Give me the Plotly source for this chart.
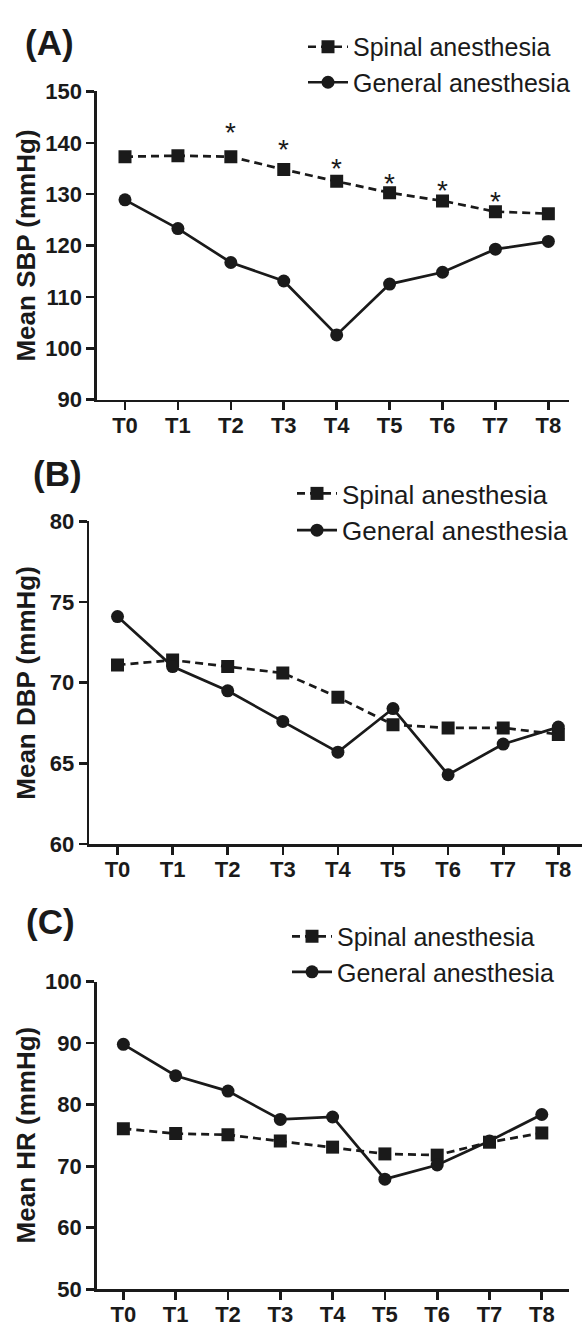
import plotly.graph_objects as go

# ---------------- data ----------------
time_points = ["T0", "T1", "T2", "T3", "T4", "T5", "T6", "T7", "T8"]

sbp_spinal = [137.3, 137.5, 137.3, 134.8, 132.5, 130.3, 128.7, 126.6, 126.2]
sbp_general = [128.9, 123.3, 116.7, 113.1, 102.6, 112.5, 114.8, 119.3, 120.8]
sbp_sig_points = ["T2", "T3", "T4", "T5", "T6", "T7"]
sbp_sig_y = [143.1, 139.8, 136.1, 133.3, 131.9, 129.8]

dbp_spinal = [71.1, 71.4, 71.0, 70.6, 69.1, 67.4, 67.2, 67.2, 66.8]
dbp_general = [74.1, 71.0, 69.5, 67.6, 65.7, 68.4, 64.3, 66.2, 67.25]

hr_spinal = [76.1, 75.3, 75.1, 74.1, 73.1, 72.0, 71.8, 73.9, 75.4]
hr_general = [89.8, 84.7, 82.2, 77.6, 78.0, 67.9, 70.2, 74.1, 78.4]

series_names = ["Spinal anesthesia", "General anesthesia"]
panel_labels = ["(A)", "(B)", "(C)"]
y_titles = ["Mean SBP (mmHg)", "Mean DBP (mmHg)", "Mean HR (mmHg)"]

# ---------------- layout helpers ----------------
W, H = 582, 1337
FONT = "Liberation Sans, Arial, Helvetica, sans-serif"
INK = "#1a1a1a"


def fx(p):
    return p / W


def fy(p):
    return 1 - p / H


panels = [
    dict(xl=97, xr=569, yt=81, yb=395, yr=[90, 150], dt=10, xrng=[-0.529, 8.39],
         leg=(303, 53.5), lfs=25, lab=(49, 31.5)),
    dict(xl=89.3, xr=582, yt=519, yb=848, yr=[60, 80], dt=5, xrng=[-0.512, 8.43],
         leg=(292, 509.5), lfs=26, lab=(57, 470)),
    dict(xl=96.7, xr=569, yt=988, yb=1301.7, yr=[50, 100], dt=10, xrng=[-0.51, 8.52],
         leg=(287, 960), lfs=25, lab=(50, 926.5)),
]

data_sets = [
    (sbp_spinal, sbp_general),
    (dbp_spinal, dbp_general),
    (hr_spinal, hr_general),
]

fig = go.Figure()
annotations = []
layout_axes = {}

for i, (p, (sp, ge)) in enumerate(zip(panels, data_sets)):
    n = "" if i == 0 else str(i + 1)
    xa, ya = "x" + n, "y" + n
    leg = "legend" + n
    fig.add_trace(go.Scatter(
        x=time_points, y=sp, name=series_names[0], xaxis=xa, yaxis=ya,
        mode="lines+markers", legend=leg,
        line=dict(color=INK, width=2.7, dash="8px,5px"),
        marker=dict(symbol="square", size=13, color=INK),
    ))
    fig.add_trace(go.Scatter(
        x=time_points, y=ge, name=series_names[1], xaxis=xa, yaxis=ya,
        mode="lines+markers", legend=leg,
        line=dict(color=INK, width=2.7),
        marker=dict(symbol="circle", size=13, color=INK),
    ))
    axis_common = dict(
        showline=True, linecolor=INK, linewidth=2.6, ticks="outside",
        tickcolor=INK, tickwidth=2.6, ticklen=8, showgrid=False, zeroline=False,
        tickfont=dict(family=FONT, size=22, color=INK, weight="bold"),
        fixedrange=True,
    )
    layout_axes["xaxis" + n] = dict(
        axis_common, domain=[fx(p["xl"]), fx(p["xr"])], anchor=ya,
        range=p["xrng"], type="category", categoryorder="array",
        categoryarray=time_points, ticklabelstandoff=-4,
    )
    layout_axes["yaxis" + n] = dict(
        axis_common, domain=[fy(p["yb"]), fy(p["yt"])], anchor=xa,
        range=p["yr"], dtick=p["dt"], tick0=p["yr"][0],
    )
    layout_axes[leg] = dict(
        x=fx(p["leg"][0]), y=fy(p["leg"][1]), xanchor="left", yanchor="middle",
        font=dict(family=FONT, size=p["lfs"], color=INK),
        bgcolor="rgba(0,0,0,0)", borderwidth=0, itemwidth=40, tracegroupgap=0,
    )
    annotations.append(dict(
        text=panel_labels[i], xref="paper", yref="paper",
        x=fx(p["lab"][0]), y=fy(p["lab"][1]), xanchor="center", yanchor="middle",
        showarrow=False, font=dict(family=FONT, size=35, color=INK, weight="bold"),
    ))
    annotations.append(dict(
        text=y_titles[i], xref="paper", yref="paper", textangle=-90,
        x=fx(26), y=fy((p["yt"] + p["yb"]) / 2), xanchor="center", yanchor="middle",
        showarrow=False, font=dict(family=FONT, size=26, color=INK, weight="bold"),
    ))

for tp, yv in zip(sbp_sig_points, sbp_sig_y):
    annotations.append(dict(
        text="*", x=tp, y=yv, xref="x", yref="y", showarrow=False,
        xanchor="center", yanchor="middle", yshift=-6,
        font=dict(family=FONT, size=28, color=INK),
    ))

fig.update_layout(
    width=W, height=H, margin=dict(l=0, r=0, t=0, b=0),
    paper_bgcolor="white", plot_bgcolor="white",
    annotations=annotations, showlegend=True,
    **layout_axes,
)

fig.write_html(
    "out.html",
    config={"displayModeBar": False, "staticPlot": True},
    post_script="document.body.style.margin='0px';document.body.style.overflow='hidden';",
)
